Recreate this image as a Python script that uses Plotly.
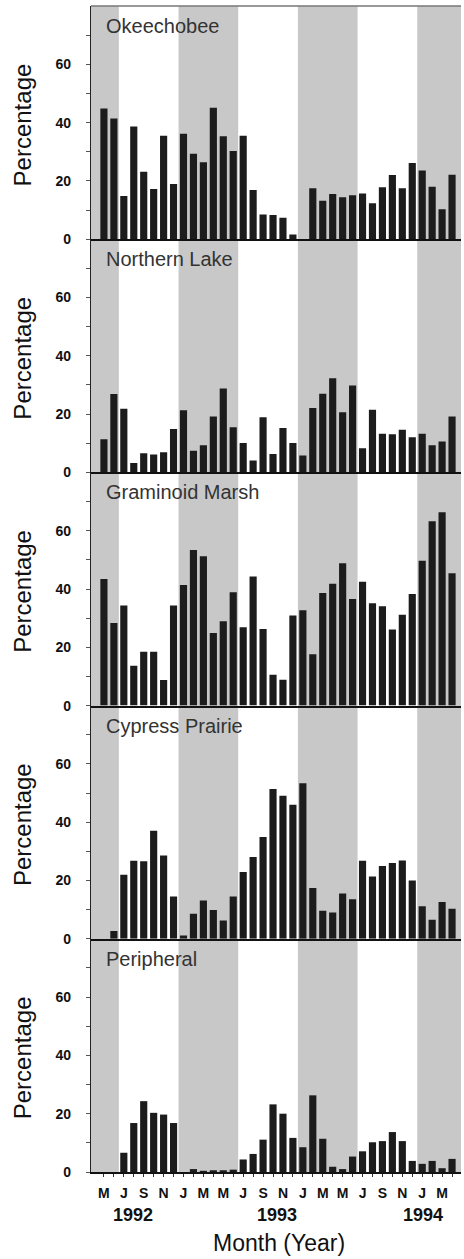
import plotly.graph_objects as go

# ---------------- data ----------------
months = list(range(36))
month_tick_labels = ["M", "J", "S", "N", "J", "M", "M", "J", "S", "N", "J", "M",
                     "M", "J", "S", "N", "J", "M"]
year_labels = ["1992", "1993", "1994"]
year_label_pos = [2.9, 17.4, 32.1]

sites = ["Okeechobee", "Northern Lake", "Graminoid Marsh", "Cypress Prairie", "Peripheral"]

okeechobee = [44.8, 41.4, 14.8, 38.7, 23.1, 17.2, 35.5, 18.9, 36.2, 29.3, 26.4, 45.1,
              35.3, 30.3, 35.5, 16.9, 8.5, 8.3, 7.4, 1.6, 0, 17.5, 13.2, 15.5,
              14.4, 15.1, 15.7, 12.3, 17.8, 22.0, 17.5, 26.1, 23.6, 18.0, 10.3, 22.1]
northern_lake = [11.4, 26.9, 21.8, 3.2, 6.6, 6.1, 6.9, 14.9, 21.3, 7.4, 9.3, 19.2,
                 28.8, 15.5, 10.1, 4.1, 18.9, 6.3, 15.2, 10.1, 5.8, 22.1, 27.0, 32.3,
                 20.6, 29.8, 8.3, 21.5, 13.3, 13.1, 14.6, 12.1, 13.3, 9.3, 10.6, 19.2]
graminoid_marsh = [43.4, 28.3, 34.3, 13.7, 18.5, 18.5, 8.8, 34.3, 41.4, 53.4, 51.2, 24.9,
                   28.9, 38.9, 26.9, 44.3, 26.3, 10.6, 8.9, 30.9, 32.7, 17.6, 38.6, 41.8,
                   48.8, 36.6, 42.5, 35.1, 34.1, 26.1, 31.2, 38.3, 49.7, 63.2, 66.3, 45.4]
cypress_prairie = [0, 2.7, 22.0, 26.8, 26.6, 37.1, 28.6, 14.5, 1.1, 8.6, 13.1, 9.9,
                   6.3, 14.5, 22.9, 28.1, 34.9, 51.4, 49.1, 46.0, 53.4, 17.4, 9.6, 9.0,
                   15.5, 13.6, 26.8, 21.4, 25.0, 26.0, 26.9, 20.0, 11.2, 6.5, 12.6, 10.3]
peripheral = [0, 0, 6.6, 16.8, 24.3, 20.3, 19.7, 16.8, 0, 1.0, 0.4, 0.6,
              0.6, 0.8, 4.3, 6.2, 11.1, 23.2, 20.0, 11.7, 8.5, 26.3, 11.4, 1.8,
              1.0, 5.3, 7.1, 10.2, 10.6, 13.7, 10.6, 3.8, 2.8, 3.8, 1.3, 4.5]

series = [okeechobee, northern_lake, graminoid_marsh, cypress_prairie, peripheral]

# shaded (dry-season) periods, in month-index units
shaded_periods = [(-1.3, 1.5), (7.5, 13.5), (19.5, 25.5), (31.5, 35.9)]

y_tickvals = [0, 10, 20, 30, 40, 50, 60, 70]
y_ticktext = ["0", "", "20", "", "40", "", "60", ""]

# ---------------- figure ----------------
W, H = 464, 1259
ML, MR, MT, MB = 91, 3, 6, 87
n = len(sites)
FONT = "Liberation Sans, Arial, Helvetica, sans-serif"

fig = go.Figure()
for k, (name, vals) in enumerate(zip(sites, series)):
    ax = "" if k == 0 else str(k + 1)
    fig.add_trace(go.Bar(x=months, y=vals, width=0.72,
                         marker=dict(color="#1c1c1c", line=dict(width=0)),
                         xaxis="x" + ax, yaxis="y" + ax, showlegend=False,
                         hoverinfo="x+y"))

layout = dict(width=W, height=H,
              margin=dict(l=ML, r=MR, t=MT, b=MB),
              paper_bgcolor="white", plot_bgcolor="rgba(0,0,0,0)",
              font=dict(family=FONT, color="#111"),
              bargap=0.3, showlegend=False)

annotations = []
for k in range(n):
    ax = "" if k == 0 else str(k + 1)
    top = 1 - k / n
    bot = 1 - (k + 1) / n
    last = (k == n - 1)
    xa = dict(domain=[0, 1], range=[-1.3, 35.9], anchor="y" + ax,
              showline=True, linecolor="#111", linewidth=1.5,
              showgrid=False, zeroline=False, automargin=False,
              tickmode="array", tickvals=months,
              ticktext=[(month_tick_labels[i // 2] if i % 2 == 0 else "") for i in months]
              if last else [""] * len(months),
              ticks="outside" if last else "", ticklen=3, tickcolor="#333",
              tickfont=dict(size=14, family=FONT, weight="bold", color="#111"),
              ticklabelstandoff=4)
    if k > 0:
        xa["matches"] = "x"
    ya = dict(domain=[bot, top], range=[0, 80], anchor="x" + ax,
              showline=True, linecolor="#222", linewidth=1.2,
              showgrid=False, zeroline=False, automargin=False,
              tickmode="array", tickvals=y_tickvals, ticktext=y_ticktext,
              ticks="outside", ticklen=4, tickcolor="#555",
              tickfont=dict(size=14, family=FONT, weight="bold", color="#111"),
              ticklabelstandoff=12)
    layout["xaxis" + ax] = xa
    layout["yaxis" + ax] = ya

    annotations.append(dict(text=sites[k], xref="paper", yref="y" + ax + " domain",
                            x=(104 - ML) / (W - ML - MR), y=1 - 20 / 233,
                            xanchor="left", yanchor="middle", showarrow=False,
                            font=dict(size=20, family=FONT, color="#333")))
    annotations.append(dict(text="Percentage", xref="paper", yref="y" + ax + " domain",
                            x=(22.5 - ML) / (W - ML - MR), y=0.49,
                            xanchor="center", yanchor="middle", textangle=-90,
                            showarrow=False,
                            font=dict(size=24, family=FONT, color="#111")))

plot_h = H - MT - MB
for lab, pos in zip(year_labels, year_label_pos):
    annotations.append(dict(text=lab, xref="x5", yref="paper", x=pos,
                            y=-(1215 - (H - MB)) / plot_h, xanchor="center",
                            yanchor="middle", showarrow=False,
                            font=dict(size=18, family=FONT, weight="bold", color="#111")))
annotations.append(dict(text="Month (Year)", xref="paper", yref="paper",
                        x=(279 - ML) / (W - ML - MR), y=-(1243 - (H - MB)) / plot_h,
                        xanchor="center", yanchor="middle", showarrow=False,
                        font=dict(size=23, family=FONT, color="#111")))
layout["annotations"] = annotations

shapes = []
for x0, x1 in shaded_periods:
    shapes.append(dict(type="rect", xref="x", yref="paper", x0=x0, x1=x1, y0=0, y1=1,
                       fillcolor="#c8c8c8", line=dict(width=0), layer="below"))
shapes.append(dict(type="line", xref="paper", yref="paper", x0=0, x1=1, y0=1, y1=1,
                   line=dict(color="#777", width=1.5)))
layout["shapes"] = shapes

fig.update_layout(**layout)
fig.write_html("out.html", config={"displayModeBar": False},
               post_script="document.body.style.margin='0';document.body.style.overflow='hidden';")
